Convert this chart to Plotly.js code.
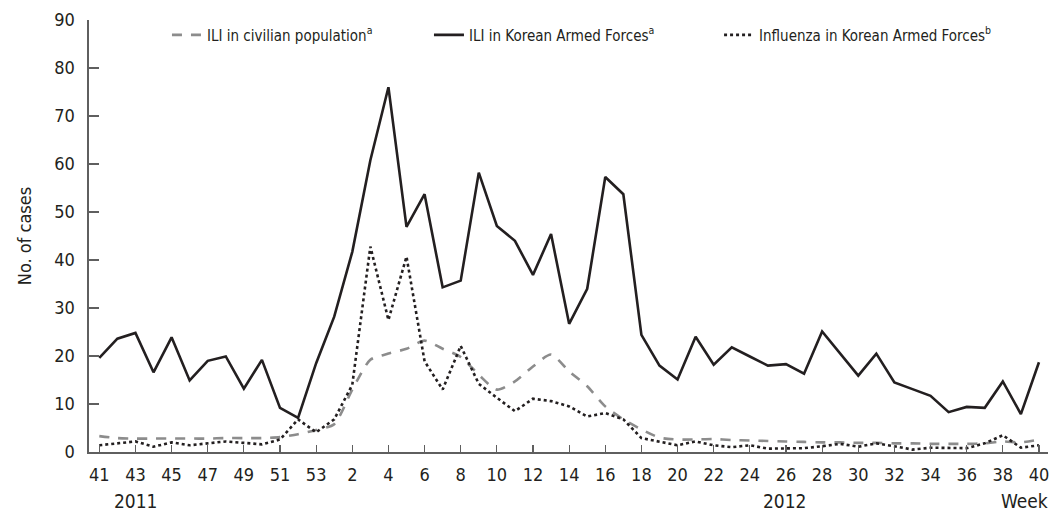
<!DOCTYPE html>
<html>
<head>
<meta charset="utf-8">
<script src="https://cdn.plot.ly/plotly-3.0.1.min.js"></script>
<style>
html,body{margin:0;padding:0;background:#fff;}
#chart{width:1052px;height:514px;}
</style>
</head>
<body>
<div id="chart"></div>
<script>
// Week categories: 2011 weeks 41-53, then 2012 weeks 1-40
const weeks = ['41','42','43','44','45','46','47','48','49','50','51','52','53',
  '1','2','3','4','5','6','7','8','9','10','11','12','13','14','15','16','17','18','19','20',
  '21','22','23','24','25','26','27','28','29','30','31','32','33','34','35','36','37','38','39','40'];

const iliCivilian = [3.3,2.9,2.8,2.8,2.8,2.8,2.8,2.9,2.9,2.9,3.1,3.7,4.6,
  5.8,13.0,19.2,20.5,21.5,23.2,21.5,19.8,16.1,13.0,
  14.7,17.8,20.3,16.8,13.7,9.5,6.8,4.7,3.0,2.6,
  2.6,2.7,2.5,2.4,2.3,2.2,2.1,2.0,2.0,1.9,
  1.9,1.8,1.8,1.7,1.7,1.7,1.8,2.2,2.0,2.6];

const iliArmed = [19.6,23.6,24.8,16.6,23.9,14.9,19.0,19.9,13.2,19.2,9.2,7.1,18.5,
  28.2,41.7,60.8,76.0,46.9,53.7,34.3,35.7,58.2,47.1,
  44.0,36.9,45.4,26.7,34.0,57.3,53.7,24.4,18.0,15.1,
  24.0,18.2,21.8,19.9,18.0,18.3,16.3,25.1,20.6,15.9,
  20.5,14.5,13.1,11.7,8.3,9.4,9.2,14.7,7.9,18.7];

const fluArmed = [1.4,1.8,2.2,1.1,2.0,1.4,1.8,2.2,1.9,1.6,2.6,6.8,4.1,
  6.8,14.0,42.8,27.5,40.7,18.9,13.0,22.1,14.2,11.3,
  8.5,11.1,10.6,9.5,7.4,8.1,6.8,2.9,2.2,1.4,
  2.2,1.4,1.0,1.4,0.7,0.7,0.8,1.2,1.7,1.1,
  1.8,1.2,0.5,0.9,0.9,0.8,1.8,3.5,0.9,1.4];

const tickWeeks = ['41','43','45','47','49','51','53','2','4','6','8','10','12','14','16','18','20',
  '22','24','26','28','30','32','34','36','38','40'];
const yTicks = [0,10,20,30,40,50,60,70,80,90];

const seriesNames = ['ILI in civilian population<sup>a</sup>',
  'ILI in Korean Armed Forces<sup>a</sup>',
  'Influenza in Korean Armed Forces<sup>b</sup>'];
const yearLabels = ['2011','2012','Week'];

const FONT = 'Liberation Sans Narrow, Arial Narrow, DejaVu Sans Condensed, sans-serif';
const INK = '#231f20';
const AX = '#5f5f5f';

const traces = [
  {x: weeks, y: iliCivilian, name: seriesNames[0], type:'scatter', mode:'lines',
   line:{color:'#8c8c8c', width:2.6, dash:'10px,9px', shape:'spline', smoothing:0.7}, legend:'legend'},
  {x: weeks, y: iliArmed, name: seriesNames[1], type:'scatter', mode:'lines',
   line:{color:INK, width:2.6}, legend:'legend2'},
  {x: weeks, y: fluArmed, name: seriesNames[2], type:'scatter', mode:'lines',
   line:{color:INK, width:2.6, dash:'3px,3px'}, legend:'legend3'}
];

const legBase = {orientation:'h', y:0.965, yanchor:'middle', xanchor:'left',
  bgcolor:'rgba(0,0,0,0)', font:{family:FONT, size:15, color:INK}};

const layout = {
  width:1052, height:514,
  margin:{l:89, r:4, t:20, b:62},
  paper_bgcolor:'#fff', plot_bgcolor:'#fff',
  font:{family:FONT, color:INK},
  showlegend:true,
  legend: Object.assign({}, legBase, {x:0.0813}),
  legend2: Object.assign({}, legBase, {x:0.3545}),
  legend3: Object.assign({}, legBase, {x:0.657}),
  xaxis:{type:'category', categoryarray:weeks, categoryorder:'array',
    range:[-0.57, 52.5], showline:true, linecolor:AX, linewidth:1.6,
    ticks:'inside', ticklen:7, tickwidth:1.2, tickcolor:AX,
    tickmode:'array', tickvals:tickWeeks, ticktext:tickWeeks,
    tickfont:{family:FONT, size:18, color:INK}, showgrid:false, zeroline:false,
    ticklabelstandoff:6},
  yaxis:{range:[0,90], showline:true, linecolor:AX, linewidth:1.6,
    ticks:'inside', ticklen:10, tickwidth:1.2, tickcolor:AX,
    tickmode:'array', tickvals:yTicks, ticktext:yTicks.map(String),
    tickfont:{family:FONT, size:18, color:INK}, showgrid:false, zeroline:false,
    ticklabelstandoff:9,
    title:{text:'No. of cases', font:{family:FONT, size:18, color:INK}, standoff:18}},
  annotations:[
    {text:yearLabels[0], xref:'paper', yref:'paper', x:0.049, y:-0.113, xanchor:'center', yanchor:'middle', showarrow:false, font:{family:FONT, size:19, color:INK}},
    {text:yearLabels[1], xref:'paper', yref:'paper', x:0.726, y:-0.113, xanchor:'center', yanchor:'middle', showarrow:false, font:{family:FONT, size:19, color:INK}},
    {text:yearLabels[2], xref:'paper', yref:'paper', x:0.976, y:-0.113, xanchor:'center', yanchor:'middle', showarrow:false, font:{family:FONT, size:19, color:INK}}
  ]
};

Plotly.newPlot('chart', traces, layout, {displayModeBar:false, staticPlot:true});
</script>
</body>
</html>
